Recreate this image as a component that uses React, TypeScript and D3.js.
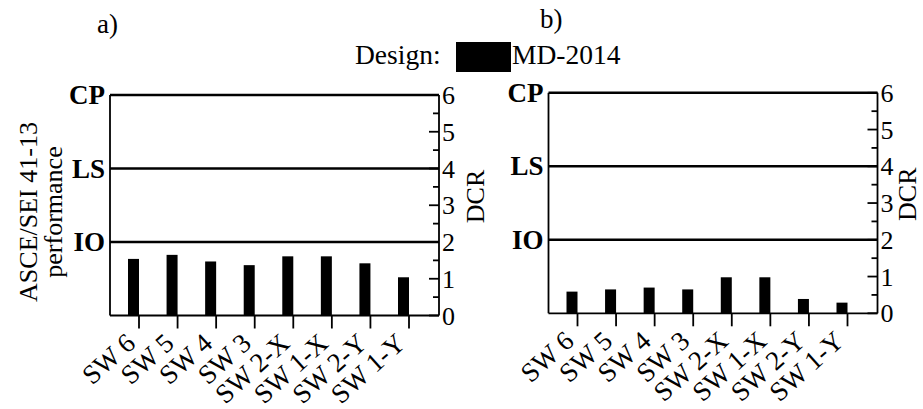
import React, { useEffect, useRef } from "react";
import * as d3 from "d3";

// shear walls, in the order they appear on the x axis
const walls = ["SW 6", "SW 5", "SW 4", "SW 3", "SW 2-X", "SW 1-X", "SW 2-Y", "SW 1-Y"];
// demand-to-capacity ratios
const dcrPanelA = [1.54, 1.65, 1.47, 1.37, 1.61, 1.61, 1.42, 1.04];
const dcrPanelB = [0.59, 0.65, 0.7, 0.65, 0.98, 0.98, 0.39, 0.29];
// ASCE/SEI 41-13 performance levels and the DCR they sit at
const levels = ["IO", "LS", "CP"];
const levelDCR = [2, 4, 6];
const dcrTicks = [0, 1, 2, 3, 4, 5, 6];
const panelTitles = ["a)", "b)"];
const designName = "MD-2014";

const W = 923;
const H = 409;
const FONT = "'Liberation Serif', 'Times New Roman', serif";

const App = () => {
  const ref = useRef<SVGSVGElement>(null);

  useEffect(() => {
    const svg = d3.select(ref.current);
    svg.selectAll("*").remove();

    const pw = 329;
    const ph = 220.5;

    const x = d3.scalePoint<string>().domain(walls).range([29, 299]);
    const y = d3.scaleLinear().domain([0, 6]).range([ph, 0]);
    const barW = 11;

    function drawPanel(values: number[], left: number, top: number, title: string, titleX: number, titleY: number, showYLabel: boolean, dcrGap: number) {
      const g = svg.append("g").attr("transform", `translate(${left},${top})`);

      // bars, sitting just left of their tick
      g.selectAll("rect.bar")
        .data(values)
        .enter()
        .append("rect")
        .attr("class", "bar")
        .attr("x", (_, i) => (x(walls[i]) as number) - barW)
        .attr("y", (d) => y(d))
        .attr("width", barW)
        .attr("height", (d) => y(0) - y(d))
        .attr("fill", "#000");

      // frame: left side and bottom
      g.append("line").attr("x1", 0).attr("x2", 0).attr("y1", y(6)).attr("y2", y(0))
        .attr("stroke", "#000").attr("stroke-width", 1.8);
      g.append("line").attr("x1", 0).attr("x2", pw).attr("y1", y(0)).attr("y2", y(0))
        .attr("stroke", "#000").attr("stroke-width", 1.8);

      // performance level lines
      g.selectAll("line.level")
        .data(levelDCR)
        .enter()
        .append("line")
        .attr("class", "level")
        .attr("x1", 0)
        .attr("x2", pw)
        .attr("y1", (d) => y(d))
        .attr("y2", (d) => y(d))
        .attr("stroke", "#000")
        .attr("stroke-width", 2.5);

      g.selectAll("text.level")
        .data(levelDCR)
        .enter()
        .append("text")
        .attr("class", "level")
        .attr("x", -5)
        .attr("y", (d) => y(d) + 9)
        .attr("text-anchor", "end")
        .attr("font-family", FONT)
        .attr("font-weight", "bold")
        .attr("font-size", 27)
        .text((_, i) => levels[i]);

      // right DCR axis
      g.append("line").attr("x1", pw).attr("x2", pw).attr("y1", y(6)).attr("y2", y(0))
        .attr("stroke", "#000").attr("stroke-width", 1.8);
      g.selectAll("line.rtick")
        .data(d3.range(0, 6.01, 0.5))
        .enter()
        .append("line")
        .attr("class", "rtick")
        .attr("x1", (d) => (d % 1 === 0 ? pw - 10 : pw - 6))
        .attr("x2", pw)
        .attr("y1", (d) => y(d))
        .attr("y2", (d) => y(d))
        .attr("stroke", "#000")
        .attr("stroke-width", 1.8);
      g.selectAll("text.rtick")
        .data(dcrTicks)
        .enter()
        .append("text")
        .attr("class", "rtick")
        .attr("x", pw + 3)
        .attr("y", (d) => y(d) + 9)
        .attr("font-family", FONT)
        .attr("font-size", 26)
        .text((d) => d);
      g.append("text")
        .attr("transform", `translate(${pw + dcrGap},${ph * 0.46}) rotate(-90)`)
        .attr("text-anchor", "middle")
        .attr("font-family", FONT)
        .attr("font-size", 26)
        .text("DCR");

      // bottom ticks + rotated wall labels
      g.selectAll("line.xtick")
        .data(walls)
        .enter()
        .append("line")
        .attr("class", "xtick")
        .attr("x1", (d) => x(d) as number)
        .attr("x2", (d) => x(d) as number)
        .attr("y1", y(0))
        .attr("y2", y(0) + 13)
        .attr("stroke", "#000")
        .attr("stroke-width", 1.8);
      g.selectAll("text.xtick")
        .data(walls)
        .enter()
        .append("text")
        .attr("class", "xtick")
        .attr("transform", (d) => `translate(${(x(d) as number) - 2},${y(0) + 30}) rotate(-42)`)
        .attr("text-anchor", "end")
        .attr("font-family", FONT)
        .attr("font-size", 27)
        .text((d) => d);

      if (showYLabel) {
        const yl = g.append("text")
          .attr("transform", `translate(${37 - left},${212 - top}) rotate(-90)`)
          .attr("text-anchor", "middle")
          .attr("font-family", FONT)
          .attr("font-size", 26);
        yl.append("tspan").attr("x", 0).attr("dy", 0).text("ASCE/SEI 41-13");
        yl.append("tspan").attr("x", 0).attr("dy", 25).text("performance");
      }

      svg.append("text")
        .attr("x", titleX)
        .attr("y", titleY)
        .attr("font-family", FONT)
        .attr("font-size", 27)
        .text(title);
    }

    drawPanel(dcrPanelA, 110, 95, panelTitles[0], 97, 33, true, 45);
    drawPanel(dcrPanelB, 548.5, 92.8, panelTitles[1], 540, 28, false, 38);

    // legend
    svg.append("text")
      .attr("x", 355)
      .attr("y", 64)
      .attr("font-family", FONT)
      .attr("font-size", 27.5)
      .text("Design:");
    svg.append("rect")
      .attr("x", 456)
      .attr("y", 42)
      .attr("width", 55)
      .attr("height", 30)
      .attr("fill", "#000");
    svg.append("text")
      .attr("x", 512)
      .attr("y", 64)
      .attr("font-family", FONT)
      .attr("font-size", 27.5)
      .text(designName);
  }, []);

  return (
    <svg
      ref={ref}
      width={W}
      height={H}
      style={{ position: "absolute", left: 0, top: 0, background: "#fff" }}
    />
  );
};

export default App;
